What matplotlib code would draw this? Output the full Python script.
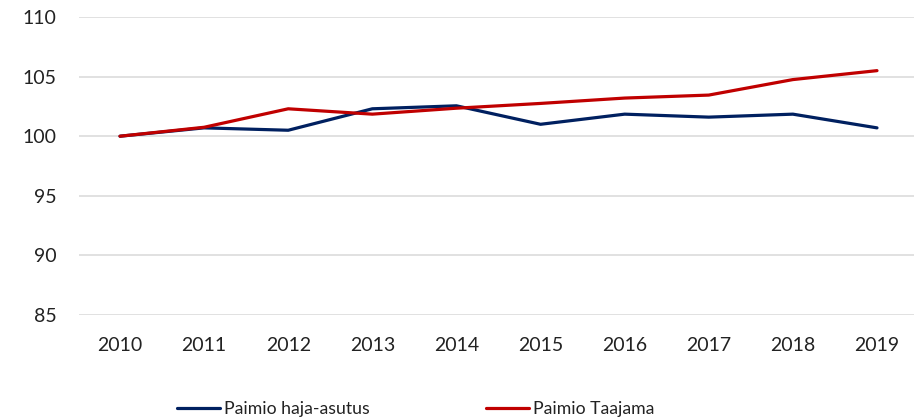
import matplotlib.pyplot as plt

years = ['2010', '2011', '2012', '2013', '2014', '2015', '2016', '2017', '2018', '2019']
haja_asutus = [100.0, 100.7, 100.5, 102.3, 102.55, 101.0, 101.85, 101.6, 101.85, 100.7]
taajama = [100.0, 100.75, 102.3, 101.85, 102.35, 102.75, 103.2, 103.45, 104.75, 105.5]
y_ticks = [85, 90, 95, 100, 105, 110]

plt.rcParams['font.family'] = ['Lato', 'DejaVu Sans']

fig = plt.figure(figsize=(9.14, 4.2), dpi=100)
ax = fig.add_axes([79 / 914, 0.25, 1 - 79 / 914, 0.7095])

x = range(len(years))
ax.plot(x, haja_asutus, color='#002060', linewidth=2.3, label='Paimio haja-asutus',
        solid_capstyle='round', zorder=3)
ax.plot(x, taajama, color='#C00000', linewidth=2.3, label='Paimio Taajama',
        solid_capstyle='round', zorder=3)

ax.set_ylim(85, 110)
ax.set_yticks(y_ticks)
ax.set_xlim(-0.4875, 9.44)
ax.set_xticks(list(x))
ax.set_xticklabels(years)
ax.grid(axis='y', color='#D9D9D9', linewidth=1.1)
ax.set_axisbelow(True)
for side in ax.spines.values():
    side.set_visible(False)
ax.tick_params(axis='both', length=0, labelsize=14, colors='#222222')
ax.tick_params(axis='y', pad=16)
ax.tick_params(axis='x', pad=16)

# legend sits under the x labels, entries spread wide
leg = fig.legend(loc='center', bbox_to_anchor=(416 / 914, 1 - 409 / 420), ncol=2,
                 frameon=False, fontsize=12.7, handlelength=2.4, handletextpad=0.25,
                 columnspacing=6.6)
for t in leg.get_texts():
    t.set_color('#222222')

fig.savefig('out.png', dpi=100)
